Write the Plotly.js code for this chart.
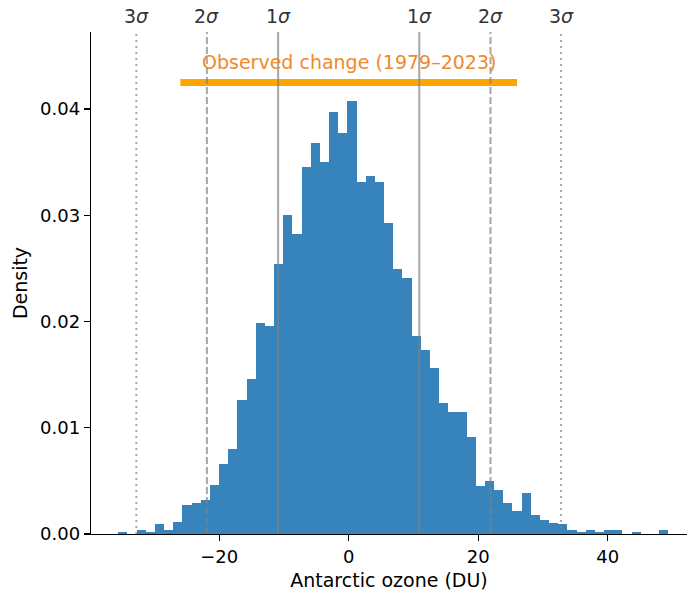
<!DOCTYPE html>
<html>
<head>
<meta charset="utf-8">
<script src="https://cdn.plot.ly/plotly-3.0.1.min.js"></script>
<style>
  html, body { margin: 0; padding: 0; background: #fff; }
  #chart { width: 687px; height: 596px; }
</style>
</head>
<body>
<div id="chart"></div>
<script>
// ---- Data ----
const binStart = -35.6;      // left edge of first bin (DU)
const binWidth = 1.416;      // bin width (DU)
const densities = [
  0.0002, 0.0000, 0.0004, 0.0002, 0.0009, 0.0004, 0.0011, 0.0027, 0.0029, 0.0032,
  0.0046, 0.0066, 0.0080, 0.0126, 0.0146, 0.0199, 0.0196, 0.0254, 0.0300, 0.0282,
  0.0345, 0.0368, 0.0350, 0.0397, 0.0377, 0.0408, 0.0331, 0.0337, 0.0331, 0.0293,
  0.0249, 0.0241, 0.0186, 0.0173, 0.0156, 0.0123, 0.0115, 0.0115, 0.0091, 0.0045,
  0.0050, 0.0041, 0.0029, 0.0022, 0.0039, 0.0018, 0.0013, 0.0010, 0.0009, 0.0004,
  0.0002, 0.0004, 0.0002, 0.0004, 0.0004, 0.0000, 0.0002, 0.0000, 0.0000, 0.0004
];
const sigmaPositions = [-32.8, -21.9, -10.9, 10.9, 21.9, 32.8];
const sigmaLabels = ['3<i>σ</i>', '2<i>σ</i>', '1<i>σ</i>', '1<i>σ</i>', '2<i>σ</i>', '3<i>σ</i>'];
const sigmaDash = ['dot', 'dash', 'solid', 'solid', 'dash', 'dot'];
const observedRange = [-26, 26];
const observedY = 0.0425;
const observedLabel = 'Observed change (1979–2023)';
const xTicks = [-20, 0, 20, 40];
const yTicks = [0, 0.01, 0.02, 0.03, 0.04];

// ---- Build figure ----
const centers = densities.map((_, i) => binStart + binWidth * (i + 0.5));

const FONT = 'DejaVu Sans, sans-serif';
const GRAY = 'rgba(128,128,128,0.7)';

const trace = {
  type: 'bar',
  x: centers,
  y: densities,
  width: binWidth,
  marker: { color: '#3783bb', line: { width: 0 } },
  hoverinfo: 'x+y'
};

const shapes = [];
shapes.push({
  type: 'line', xref: 'x', yref: 'y',
  x0: observedRange[0], x1: observedRange[1], y0: observedY, y1: observedY,
  line: { color: '#ffa500', width: 7 }, layer: 'above'
});
sigmaPositions.forEach((p, i) => {
  shapes.push({
    type: 'line', xref: 'x', yref: 'paper',
    x0: p, x1: p, y0: 0, y1: 1,
    line: { color: GRAY, width: 2, dash: sigmaDash[i] === 'dash' ? '7px,3px' : (sigmaDash[i] === 'dot' ? '2px,4px' : 'solid') },
    layer: 'above'
  });
});

const annotations = sigmaPositions.map((p, i) => ({
  x: p, xref: 'x', y: 1, yref: 'paper',
  text: sigmaLabels[i], showarrow: false,
  xanchor: 'center', yanchor: 'middle', yshift: 16,
  font: { family: FONT, size: 19, color: '#333333' }
}));
annotations.push({
  x: 0, xref: 'x', y: 0.04442, yref: 'y',
  text: observedLabel, showarrow: false,
  xanchor: 'center', yanchor: 'middle',
  font: { family: FONT, size: 19, color: '#f0892b' }
});

const layout = {
  width: 687, height: 596,
  margin: { l: 91, r: 0, t: 32, b: 62 },
  paper_bgcolor: '#fff', plot_bgcolor: '#fff',
  showlegend: false,
  bargap: 0,
  font: { family: FONT, size: 18, color: '#000' },
  xaxis: {
    range: [-39.8, 52.25],
    tickvals: xTicks,
    ticks: 'outside', ticklen: 6, tickwidth: 1.3, tickcolor: '#000',
    showline: true, linecolor: '#000', linewidth: 1.3,
    showgrid: false, zeroline: false,
    tickfont: { family: FONT, size: 18, color: '#000' },
    title: { text: 'Antarctic ozone (DU)', font: { family: FONT, size: 19, color: '#000' }, standoff: 7 }
  },
  yaxis: {
    range: [0, 0.04725],
    tickvals: yTicks,
    tickformat: '.2f',
    ticks: 'outside', ticklen: 6, tickwidth: 1.3, tickcolor: '#000',
    showline: true, linecolor: '#000', linewidth: 1.3,
    showgrid: false, zeroline: false,
    tickfont: { family: FONT, size: 18, color: '#000' },
    title: { text: 'Density', font: { family: FONT, size: 19, color: '#000' }, standoff: 7 }
  },
  shapes: shapes,
  annotations: annotations
};

Plotly.newPlot('chart', [trace], layout, { displayModeBar: false, staticPlot: true });
</script>
</body>
</html>
